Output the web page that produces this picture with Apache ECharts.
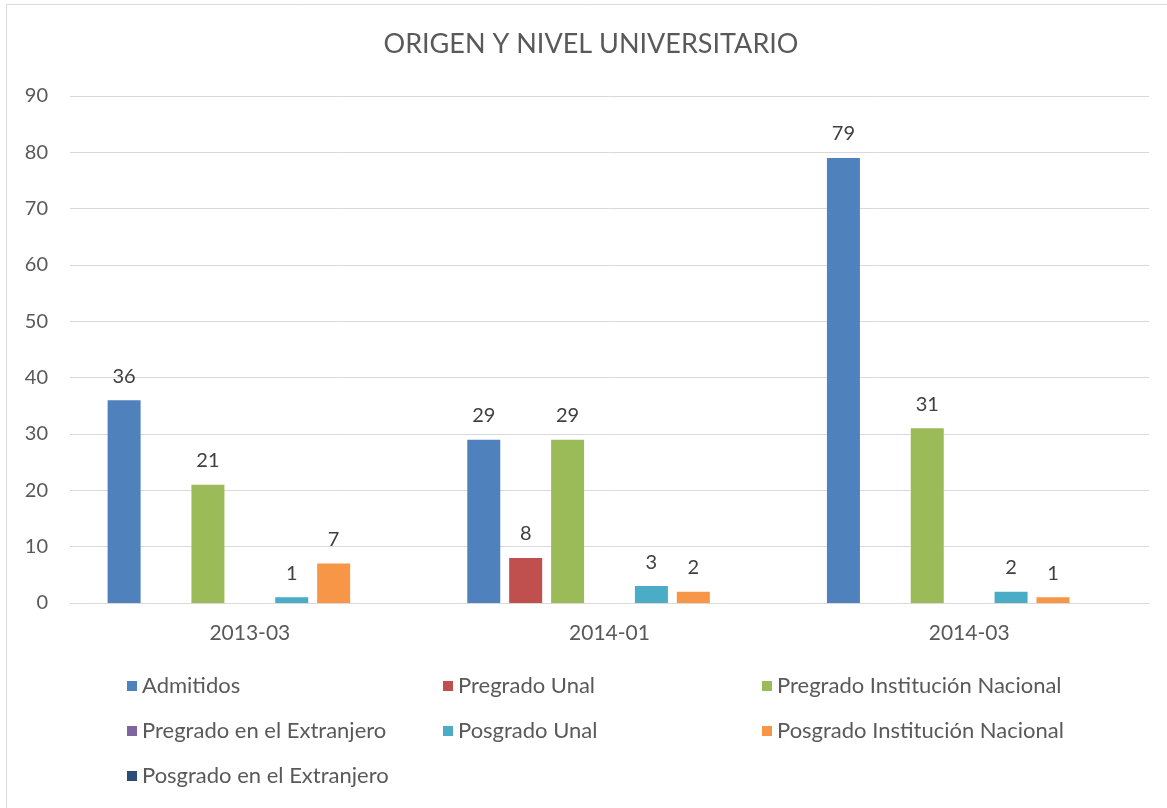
<!DOCTYPE html>
<html>
<head>
<meta charset="utf-8">
<script src="https://cdn.jsdelivr.net/npm/echarts@6/dist/echarts.min.js"></script>
<style>
  html, body { margin: 0; padding: 0; background: #fff; }
  #chart { width: 1167px; height: 808px; }
</style>
</head>
<body>
<div id="chart"></div>
<script>
// categorías (periodos)
const categories = ["2013-03", "2014-01", "2014-03"];
// series, null = sin dato
const admitidos = [36, 29, 79];
const pregradoUnal = [null, 8, null];
const pregradoInstNacional = [21, 29, 31];
const pregradoExtranjero = [null, null, null];
const posgradoUnal = [1, 3, 2];
const posgradoInstNacional = [7, 2, 1];
const posgradoExtranjero = [null, null, null];
const yTicks = [0, 10, 20, 30, 40, 50, 60, 70, 80, 90];

const seriesDefs = [
  { name: "Admitidos", data: admitidos, color: "#4F81BD" },
  { name: "Pregrado Unal", data: pregradoUnal, color: "#C0504D" },
  { name: "Pregrado Institución Nacional", data: pregradoInstNacional, color: "#9BBB59" },
  { name: "Pregrado en el Extranjero", data: pregradoExtranjero, color: "#8064A2" },
  { name: "Posgrado Unal", data: posgradoUnal, color: "#4BACC6" },
  { name: "Posgrado Institución Nacional", data: posgradoInstNacional, color: "#F79646" },
  { name: "Posgrado en el Extranjero", data: posgradoExtranjero, color: "#2C4D75" },
];

const font = "Lato, 'Open Sans', sans-serif";

const legendBase = {
  orient: "vertical",
  top: 675,
  itemWidth: 10,
  itemHeight: 10,
  itemGap: 23,
  padding: 0,
  icon: "rect",
  textStyle: { fontFamily: font, fontSize: 22, color: "#595959", lineHeight: 22, padding: [0, 0, 0, 0] },
};

const chart = echarts.init(document.getElementById("chart"));
chart.setOption({
  animation: false,
  color: seriesDefs.map((s) => s.color),
  title: {
    text: "ORIGEN Y NIVEL UNIVERSITARIO",
    left: 591,
    textAlign: "center",
    top: 31,
    padding: 0,
    textStyle: { fontFamily: font, fontSize: 27, fontWeight: "normal", color: "#595959" },
  },
  graphic: [
    {
      type: "rect",
      shape: { x: 6.5, y: 4.5, width: 1300, height: 900 },
      style: { fill: "none", stroke: "#d9d9d9", lineWidth: 1 },
      silent: true,
    },
  ],
  legend: [
    Object.assign({}, legendBase, {
      left: 127,
      data: ["Admitidos", "Pregrado en el Extranjero", "Posgrado en el Extranjero"],
    }),
    Object.assign({}, legendBase, {
      left: 443,
      data: ["Pregrado Unal", "Posgrado Unal"],
    }),
    Object.assign({}, legendBase, {
      left: 762,
      data: ["Pregrado Institución Nacional", "Posgrado Institución Nacional"],
    }),
  ],
  grid: { left: 70, right: 18, top: 96, bottom: 205 },
  xAxis: {
    type: "category",
    data: categories,
    axisLine: { lineStyle: { color: "#d9d9d9", width: 1 } },
    axisTick: { show: false },
    axisLabel: { fontFamily: font, fontSize: 21, color: "#595959", margin: 19, lineHeight: 22 },
  },
  yAxis: {
    type: "value",
    min: yTicks[0],
    max: yTicks[yTicks.length - 1],
    interval: 10,
    axisLine: { show: false },
    axisTick: { show: false },
    splitLine: { lineStyle: { color: "#d9d9d9", width: 1 } },
    axisLabel: { fontFamily: font, fontSize: 20, color: "#595959", margin: 22 },
  },
  series: seriesDefs.map((s) => ({
    name: s.name,
    type: "bar",
    data: s.data,
    barWidth: 33,
    barGap: "27%",
    itemStyle: { color: s.color },
    label: {
      show: true,
      position: "top",
      distance: 13,
      fontFamily: font,
      fontSize: 20,
      lineHeight: 22,
      color: "#404040",
    },
  })),
});
</script>
</body>
</html>
